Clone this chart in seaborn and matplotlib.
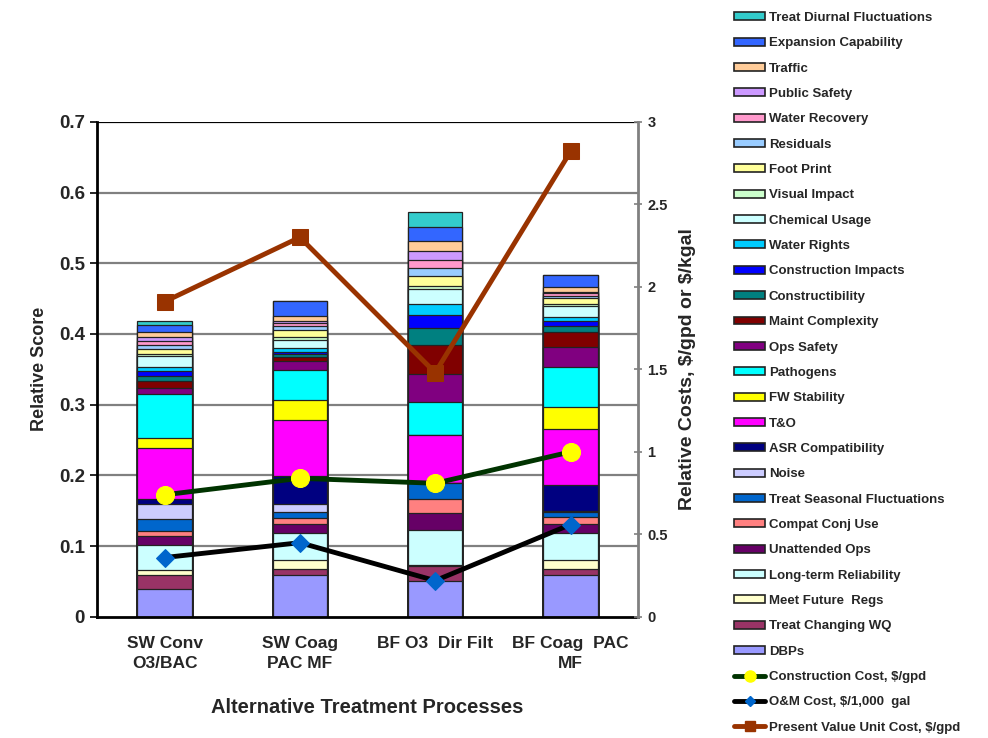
import numpy as np
import pandas as pd
import matplotlib
matplotlib.use("Agg")
import matplotlib.pyplot as plt
from matplotlib.patches import Patch
from matplotlib.lines import Line2D
import seaborn as sns

processes = ["SW Conv\nO3/BAC", "SW Coag\nPAC MF", "BF O3  Dir Filt", "BF Coag  PAC\nMF"]

# criteria, bottom of stack first
criteria = ["DBPs", "Treat Changing WQ", "Meet Future  Regs", "Long-term Reliability",
            "Unattended Ops", "Compat Conj Use", "Treat Seasonal Fluctuations", "Noise",
            "ASR Compatibility", "T&O", "FW Stability", "Pathogens", "Ops Safety",
            "Maint Complexity", "Constructibility", "Construction Impacts", "Water Rights",
            "Chemical Usage", "Visual Impact", "Foot Print", "Residuals", "Water Recovery",
            "Public Safety", "Traffic", "Expansion Capability", "Treat Diurnal Fluctuations"]

colors = ["#9999FF", "#993366", "#FFFFCC", "#CCFFFF", "#660066", "#FF8080", "#0066CC",
          "#CCCCFF", "#000080", "#FF00FF", "#FFFF00", "#00FFFF", "#800080", "#800000",
          "#008080", "#0000FF", "#00CCFF", "#CCFFFF", "#CCFFCC", "#FFFF99", "#99CCFF",
          "#FF99CC", "#CC99FF", "#FFCC99", "#3366FF", "#33CCCC"]

sw_conv = [0.040, 0.020, 0.006, 0.036, 0.013, 0.006, 0.018, 0.020, 0.008, 0.072, 0.014,
           0.062, 0.009, 0.009, 0.008, 0.006, 0.007, 0.015, 0.003, 0.007, 0.006, 0.005,
           0.006, 0.007, 0.010, 0.005]
sw_coag = [0.059, 0.009, 0.013, 0.038, 0.012, 0.009, 0.008, 0.012, 0.039, 0.080, 0.027,
           0.043, 0.013, 0.006, 0.004, 0.003, 0.005, 0.012, 0.004, 0.009, 0.007, 0.004,
           0.003, 0.007, 0.020, 0.000]
bf_o3 = [0.051, 0.021, 0.002, 0.049, 0.024, 0.020, 0.023, 0.000, 0.000, 0.067, 0.000,
         0.047, 0.039, 0.041, 0.025, 0.018, 0.016, 0.020, 0.005, 0.014, 0.011, 0.012,
         0.012, 0.014, 0.020, 0.021]
bf_coag = [0.059, 0.009, 0.013, 0.038, 0.012, 0.011, 0.006, 0.002, 0.037, 0.079, 0.031,
           0.056, 0.029, 0.021, 0.009, 0.007, 0.005, 0.016, 0.002, 0.009, 0.003, 0.004,
           0.002, 0.007, 0.017, 0.000]

construction_cost = [0.74, 0.84, 0.81, 1.00]
om_cost = [0.36, 0.45, 0.22, 0.56]
pv_unit_cost = [1.91, 2.30, 1.48, 2.82]

scores = pd.DataFrame({processes[0]: sw_conv, processes[1]: sw_coag,
                       processes[2]: bf_o3, processes[3]: bf_coag}, index=criteria)
cumulative = scores.cumsum()

sns.set_theme(style="white")
plt.rcParams["font.family"] = ["Liberation Sans", "DejaVu Sans"]
plt.rcParams["font.weight"] = "bold"

fig = plt.figure(figsize=(9.88, 7.38), dpi=100)
ax = fig.add_axes([0.098, 0.164, 0.548, 0.671])

# stacked bars: draw cumulative totals from the top criterion down
for crit, col in reversed(list(zip(criteria, colors))):
    df = pd.DataFrame({"process": processes, "score": cumulative.loc[crit].values})
    sns.barplot(data=df, x="process", y="score", order=processes, color=col,
                saturation=1, width=0.4, edgecolor="#222222", linewidth=0.9, ax=ax, zorder=2)

ax.set_ylim(0, 0.7)
ax.set_xlim(-0.5, 3.5)
ax.set_yticks(np.arange(0, 0.71, 0.1))
ax.set_yticklabels(["0", "0.1", "0.2", "0.3", "0.4", "0.5", "0.6", "0.7"],
                   fontsize=13.5, fontweight="bold")
for y in np.arange(0.1, 0.65, 0.1):
    ax.axhline(y, color="#808080", lw=1.6, zorder=0)
ax.axhline(0.7, color="black", lw=1.6, zorder=0)
ax.set_xticks(range(4))
ax.set_xticklabels(processes, fontsize=12.5, fontweight="bold", linespacing=1.35)
ax.tick_params(axis="x", length=0, pad=14)
ax.set_xticks([-0.5, 0.5, 1.5, 2.5, 3.5], minor=True)
ax.tick_params(axis="x", which="minor", length=5, width=1.5, color="black", direction="out")
ax.tick_params(axis="y", length=5, width=1.2, color="black", direction="out", left=True)
ax.set_xlabel("Alternative Treatment Processes", fontsize=14.5, fontweight="bold", labelpad=20)
ax.set_ylabel("Relative Score", fontsize=13, fontweight="bold", labelpad=8)
ax.spines["top"].set_visible(False)
ax.spines["left"].set_color("black")
ax.spines["left"].set_linewidth(2)
ax.spines["bottom"].set_color("black")
ax.spines["bottom"].set_linewidth(2)
ax.spines["right"].set_visible(False)

ax2 = ax.twinx()
xpos = np.arange(4)
sns.lineplot(x=xpos, y=construction_cost, ax=ax2, color="#003300", lw=3.5, marker="o",
             markersize=13, markerfacecolor="#FFFF00", markeredgecolor="#FFFF00", zorder=5)
sns.lineplot(x=xpos, y=om_cost, ax=ax2, color="black", lw=3.5, marker="D",
             markersize=9, markerfacecolor="#0066CC", markeredgecolor="#0066CC", zorder=5)
sns.lineplot(x=xpos, y=pv_unit_cost, ax=ax2, color="#993300", lw=3.5, marker="s",
             markersize=11, markerfacecolor="#993300", markeredgecolor="#993300", zorder=5)
ax2.set_ylim(0, 3)
ax2.set_xlim(-0.5, 3.5)
ax2.set_yticks(np.arange(0, 3.01, 0.5))
ax2.set_yticklabels(["0", "0.5", "1", "1.5", "2", "2.5", "3"], fontsize=10.5, fontweight="bold")
ax2.tick_params(axis="y", length=6, width=1.2, color="#808080", direction="inout", right=True)
ax2.set_ylabel("Relative Costs, \\$/gpd or \\$/kgal", fontsize=14, fontweight="bold", labelpad=8)
ax2.grid(False)
for s in ["top", "left", "bottom"]:
    ax2.spines[s].set_visible(False)
ax2.spines["right"].set_color("#808080")
ax2.spines["right"].set_linewidth(2)

handles = [Patch(facecolor=c, edgecolor="#222222", linewidth=1.2, label=l)
           for l, c in reversed(list(zip(criteria, colors)))]
handles += [
    Line2D([], [], color="#003300", lw=3.5, marker="o", markersize=8,
           markerfacecolor="#FFFF00", markeredgecolor="#FFFF00", label="Construction Cost, $/gpd"),
    Line2D([], [], color="black", lw=3.5, marker="D", markersize=5,
           markerfacecolor="#0066CC", markeredgecolor="#0066CC", label="O&M Cost, $/1,000  gal"),
    Line2D([], [], color="#993300", lw=3.5, marker="s", markersize=7,
           markerfacecolor="#993300", markeredgecolor="#993300", label="Present Value Unit Cost, $/gpd"),
]
leg = fig.legend(handles=handles, loc="upper left", bbox_to_anchor=(0.738, 0.991),
                 frameon=False, fontsize=9.5, handlelength=2.3, handleheight=0.55,
                 handletextpad=0.3, labelspacing=1.012, borderaxespad=0)
for t in leg.get_texts():
    t.set_fontweight("bold")

fig.savefig("out.png", dpi=100)
